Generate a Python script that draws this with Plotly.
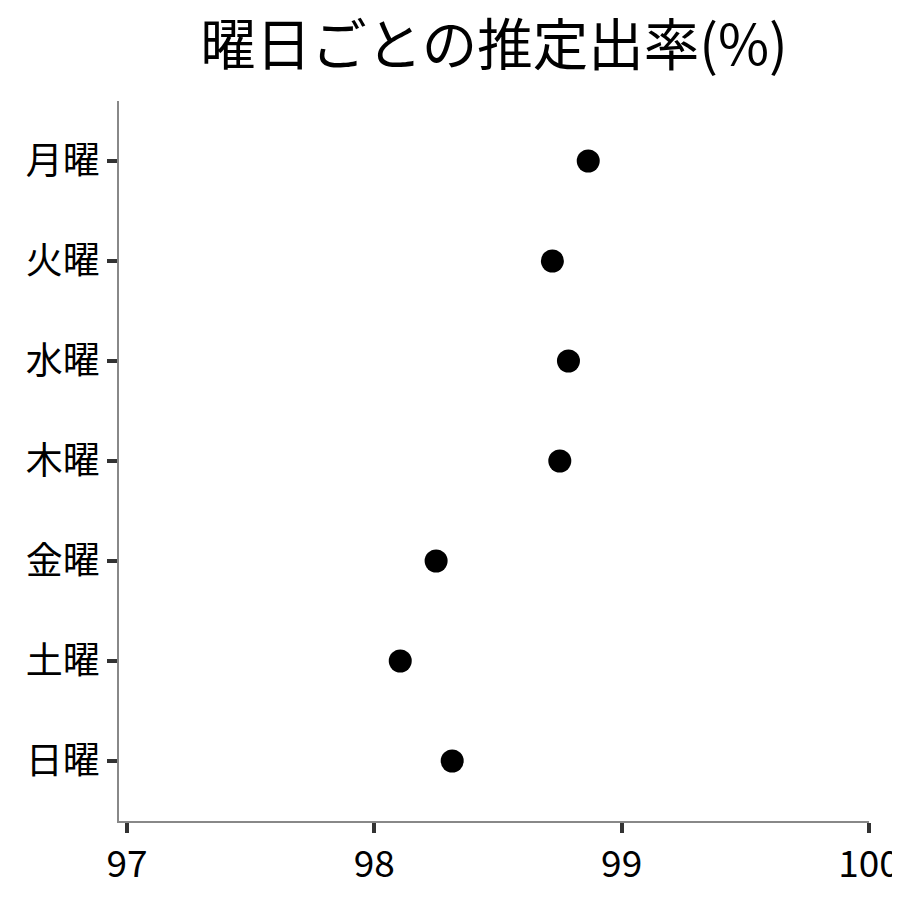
import plotly.graph_objects as go

# 曜日ごとの推定出率
days = ["月曜", "火曜", "水曜", "木曜", "金曜", "土曜", "日曜"]
rates = [98.865, 98.72, 98.785, 98.75, 98.25, 98.105, 98.315]

x_ticks = [97, 98, 99, 100]

FONT = "Noto Sans CJK JP, Noto Sans, sans-serif"

fig = go.Figure()

fig.add_trace(go.Scatter(
    x=rates,
    y=days,
    mode="markers",
    marker=dict(color="black", size=23),
    showlegend=False,
))

fig.update_layout(
    width=900,
    height=900,
    title=dict(
        text="曜日ごとの推定出率(%)",
        xref="paper",
        x=0.5,
        xanchor="center",
        y=0.958,
        yanchor="middle",
        font=dict(size=55.5, color="black", family=FONT),
    ),
    font=dict(family=FONT, color="black"),
    paper_bgcolor="white",
    plot_bgcolor="white",
    margin=dict(l=111, r=8, t=93, b=87),
)

fig.update_xaxes(
    range=[96.968, 100.0],
    tickvals=x_ticks,
    ticktext=[str(v) for v in x_ticks],
    ticklabeloverflow="allow",
    showgrid=False,
    zeroline=False,
    showline=True,
    linecolor="#888888",
    linewidth=1.5,
    ticks="outside",
    ticklen=10,
    tickwidth=3.5,
    tickcolor="#333333",
    tickfont=dict(size=37, color="black"),
)

fig.update_yaxes(
    type="category",
    categoryorder="array",
    categoryarray=days,
    range=[6.6, -0.6],
    showgrid=False,
    zeroline=False,
    showline=True,
    linecolor="#888888",
    linewidth=1.5,
    ticks="outside",
    ticklen=10,
    tickwidth=3.5,
    tickcolor="#333333",
    tickfont=dict(size=37, color="black"),
)

fig.write_html("out.html")
